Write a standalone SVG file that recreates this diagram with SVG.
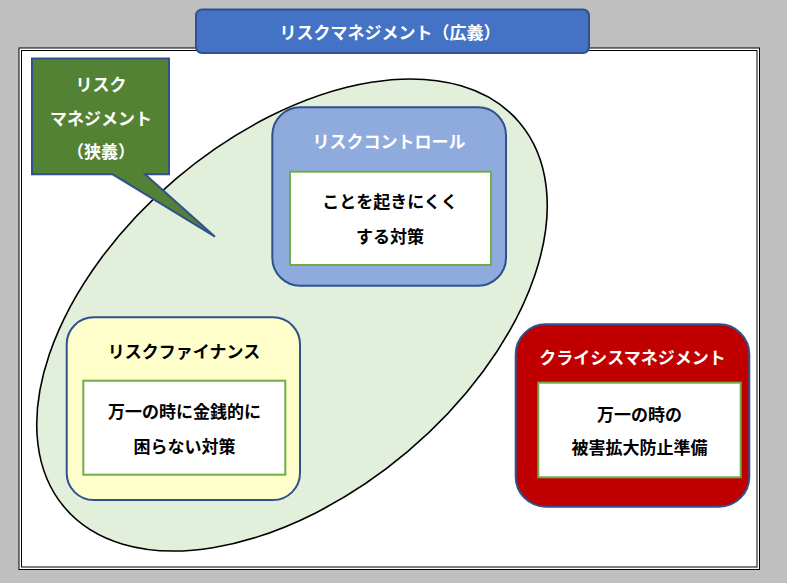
<svg xmlns="http://www.w3.org/2000/svg" width="787" height="583" viewBox="0 0 787 583">
<style>
text{font-family:"Noto Sans CJK JP","Noto Sans",sans-serif;font-weight:bold;font-size:17px;text-anchor:middle;dominant-baseline:central}
.w{fill:#FFFFFF}
.k{fill:#000000}
.inner{fill:#FFFFFF;stroke:#70AD47;stroke-width:2}
.node{stroke:#2F528F;stroke-width:2}
</style>
<rect x="0" y="0" width="787" height="583" fill="#BFBFBF"/>
<g id="frame">
<rect x="19" y="48" width="740.5" height="521.5" fill="#FFFFFF" stroke="#000000" stroke-width="1"/>
<rect x="21.5" y="50.5" width="735.5" height="516.5" fill="none" stroke="#000000" stroke-width="1"/>
</g>
<g id="connectors"></g>
<g id="risk-management-narrow-area">
<ellipse cx="292" cy="315" rx="298" ry="179" transform="rotate(-40.2 292 315)" fill="#E2EFDA" stroke="#000000" stroke-width="1.6"/>
</g>
<g id="title">
<rect x="196" y="9.5" width="393" height="43.5" rx="6" fill="#4472C4" stroke="#2F528F" stroke-width="2"/>
<text class="w" x="390" y="31.5">リスクマネジメント（広義）</text>
</g>
<g id="callout">
<path d="M32,58.5 H169 V174.3 H145 L215,236.7 L112.7,174.3 H32 Z" fill="#548235" stroke="#2F528F" stroke-width="2" stroke-linejoin="miter"/>
<text class="w" x="101" y="83">リスク</text>
<text class="w" x="101" y="117">マネジメント</text>
<text class="w" x="101" y="150">（狭義）</text>
</g>
<g id="risk-control">
<rect class="node" x="272.3" y="107.3" width="233.7" height="178.4" rx="28" fill="#8FAADC"/>
<text class="w" x="389" y="140">リスクコントロール</text>
<rect class="inner" x="290" y="171.7" width="201" height="93.3"/>
<text class="k" x="390" y="200">ことを起きにくく</text>
<text class="k" x="390" y="235">する対策</text>
</g>
<g id="risk-finance">
<rect class="node" x="66.7" y="317.3" width="233.3" height="182.7" rx="27" fill="#FFFFCC"/>
<text class="k" x="184" y="350.7">リスクファイナンス</text>
<rect class="inner" x="83.3" y="380.7" width="202" height="94"/>
<text class="k" x="184.5" y="410">万一の時に金銭的に</text>
<text class="k" x="184.5" y="445">困らない対策</text>
</g>
<g id="crisis-management">
<rect class="node" x="515.7" y="324.3" width="233.6" height="182.4" rx="30" fill="#C00000"/>
<text class="w" x="632.5" y="356.7">クライシスマネジメント</text>
<rect class="inner" x="538.3" y="382.7" width="202.4" height="94.6"/>
<text class="k" x="639.5" y="413">万一の時の</text>
<text class="k" x="639.5" y="446">被害拡大防止準備</text>
</g>
</svg>
